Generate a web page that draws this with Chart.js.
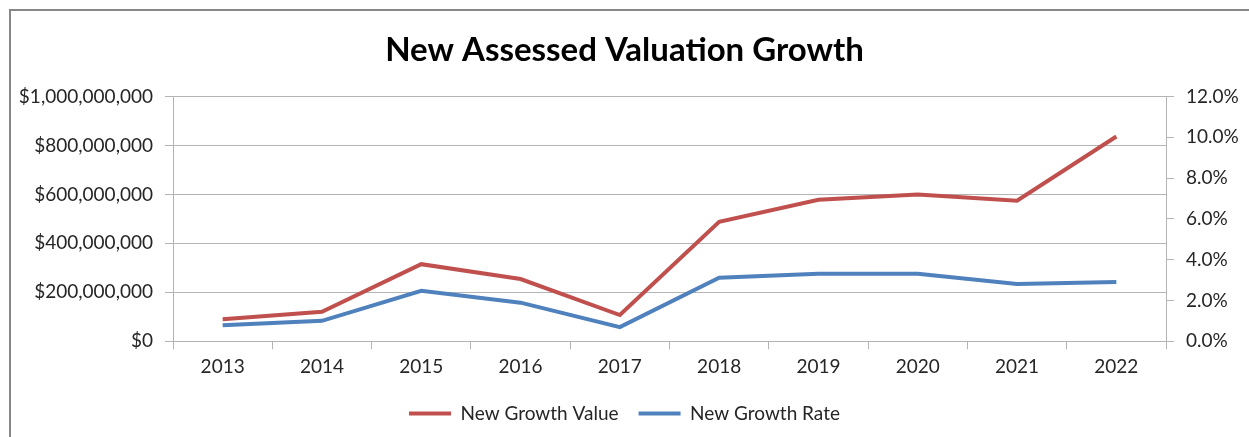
<!DOCTYPE html>
<html>
<head>
<meta charset="utf-8">
<script src="https://cdn.jsdelivr.net/npm/chart.js@4"></script>
<style>
  html, body { margin: 0; padding: 0; background: #fff; }
  #wrap { width: 1249px; height: 437px; }
</style>
</head>
<body>
<div id="wrap"><canvas id="chart" width="1249" height="437"></canvas></div>
<script>
const years = ['2013','2014','2015','2016','2017','2018','2019','2020','2021','2022']
// dollars
const growthValue = [90000000, 120000000, 315000000, 254000000, 107000000, 488000000, 578000000, 600000000, 574000000, 837000000]
// fraction of total
const growthRate = [0.0078, 0.0100, 0.0247, 0.0189, 0.0069, 0.0311, 0.0331, 0.0331, 0.0281, 0.0291]

const red = '#C0504D'
const blue = '#4F81BD'
const gridGray = '#b4b4b4'
const textColor = '#262626'
const font = 'Lato, "Open Sans", sans-serif'

// outer frame of the chart box
const framePlugin = {
    id: 'frame',
    beforeDraw(chart){
        const ctx = chart.ctx
        ctx.save()
        ctx.strokeStyle = '#878787'
        ctx.lineWidth = 2
        ctx.strokeRect(10, 10, 1260, 440)
        ctx.restore()
    }
}

const ctx = document.getElementById('chart').getContext('2d')

new Chart(ctx, {
    type: 'line',
    data: {
        labels: years,
        datasets: [{
            label: 'New Growth Value',
            data: growthValue,
            borderColor: red,
            backgroundColor: red,
            borderWidth: 4,
            pointRadius: 0,
            tension: 0,
            yAxisID: 'y'
        }, {
            label: 'New Growth Rate',
            data: growthRate,
            borderColor: blue,
            backgroundColor: blue,
            borderWidth: 4,
            pointRadius: 0,
            tension: 0,
            yAxisID: 'y1'
        }]
    },
    options: {
        responsive: false,
        animation: false,
        layout: { padding: { left: 0, right: 0, top: 0, bottom: 4 } },
        plugins: {
            title: {
                display: true,
                text: 'New Assessed Valuation Growth',
                color: '#000',
                font: { family: font, size: 33, weight: 'bold' },
                padding: { top: 31, bottom: 26 }
            },
            legend: {
                position: 'bottom',
                labels: {
                    usePointStyle: true,
                    pointStyle: 'line',
                    pointStyleWidth: 42,
                    boxHeight: 19,
                    color: textColor,
                    font: { family: font, size: 19 },
                    padding: 20
                }
            },
            tooltip: { enabled: false }
        },
        scales: {
            x: {
                offset: true,
                grid: {
                    offset: true,
                    drawOnChartArea: false,
                    drawTicks: true,
                    tickLength: 8,
                    color: gridGray
                },
                border: { display: true, color: gridGray },
                ticks: {
                    color: textColor,
                    font: { family: font, size: 19 },
                    padding: 6,
                    maxRotation: 0
                }
            },
            y: {
                position: 'left',
                min: 0,
                max: 1000000000,
                afterFit(axis){ axis.width = 173 },
                grid: { color: gridGray, tickLength: 8 },
                border: { display: true, color: gridGray },
                ticks: {
                    stepSize: 200000000,
                    color: textColor,
                    font: { family: font, size: 19 },
                    padding: 12,
                    callback: v => '$' + v.toLocaleString('en-US')
                }
            },
            y1: {
                position: 'right',
                min: 0,
                max: 0.12,
                afterFit(axis){ axis.width = 83 },
                grid: { drawOnChartArea: false, color: gridGray, tickLength: 8 },
                border: { display: true, color: gridGray },
                ticks: {
                    stepSize: 0.02,
                    color: textColor,
                    font: { family: font, size: 19 },
                    padding: 12,
                    callback: v => (v * 100).toFixed(1) + '%'
                }
            }
        }
    },
    plugins: [framePlugin]
})
</script>
</body>
</html>
